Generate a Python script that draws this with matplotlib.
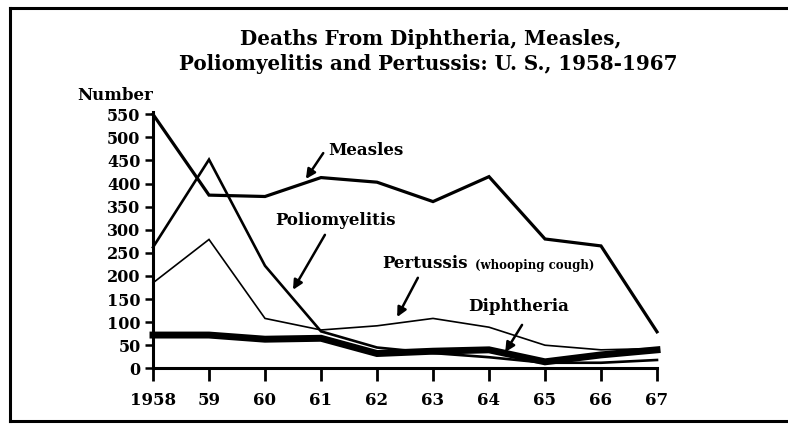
import matplotlib
matplotlib.use("Agg")
import matplotlib.pyplot as plt
from matplotlib.lines import Line2D

# Deaths per year, United States
years = [1958, 1959, 1960, 1961, 1962, 1963, 1964, 1965, 1966, 1967]
year_labels = ["1958", "59", "60", "61", "62", "63", "64", "65", "66", "67"]
measles = [550, 375, 372, 413, 403, 361, 415, 280, 265, 79]
poliomyelitis = [262, 452, 222, 80, 45, 33, 24, 12, 12, 18]
pertussis = [185, 279, 108, 83, 92, 108, 89, 50, 40, 43]
diphtheria = [72, 72, 63, 65, 32, 37, 40, 14, 29, 40]
y_ticks = list(range(0, 551, 50))

plt.rcParams["font.family"] = ["DejaVu Serif"]
plt.rcParams["font.weight"] = "bold"

W, H = 788, 424
fig = plt.figure(figsize=(W / 100, H / 100), dpi=100)
fig.patch.set_facecolor("white")

# Axes placed in pixel terms
x0, x1 = 153, 657
y0, y1 = 368.3, 114.3
ax = fig.add_axes([x0 / W, 1 - y0 / H, (x1 - x0) / W, (y0 - y1) / H])
ax.set_xlim(1958, 1967)
ax.set_ylim(0, 550)

ax.plot(years, measles, color="black", lw=2.3, solid_joinstyle="miter", clip_on=False)
ax.plot(years, poliomyelitis, color="black", lw=1.9, solid_joinstyle="miter", clip_on=False)
ax.plot(years, pertussis, color="black", lw=1.2, solid_joinstyle="miter", clip_on=False)
ax.plot(years, diphtheria, color="black", lw=5.0, solid_joinstyle="miter", clip_on=False)

for s in ["top", "right"]:
    ax.spines[s].set_visible(False)
for s in ["left", "bottom"]:
    ax.spines[s].set_linewidth(2.2)
ax.spines["left"].set_bounds(0, 556)

ax.set_yticks(y_ticks)
ax.set_yticklabels([str(v) for v in y_ticks], fontsize=11.5, fontweight="bold")
ax.set_xticks(years)
ax.set_xticklabels(year_labels, fontsize=12, fontweight="bold")
ax.tick_params(axis="y", direction="out", length=6, width=1.8, pad=3)
ax.tick_params(axis="x", direction="out", length=9, width=2.0, pad=8)

# Title and axis caption
fig.text(431 / W, 1 - 39 / H, "Deaths From Diphtheria, Measles,",
         ha="center", va="center", fontsize=14.3, fontweight="bold")
fig.text(428 / W, 1 - 64 / H, "Poliomyelitis and Pertussis: U. S., 1958-1967",
         ha="center", va="center", fontsize=14.3, fontweight="bold")
fig.text(77 / W, 1 - 95 / H, "Number", ha="left", va="center",
         fontsize=12, fontweight="bold")

arrow = dict(arrowstyle="-|>", lw=1.8, color="black", mutation_scale=14,
             shrinkA=0, shrinkB=0)

ax.annotate("", xy=(1960.73, 410), xytext=(1961.04, 466), arrowprops=arrow)
ax.text(1961.125, 471, "Measles", ha="left", va="center", fontsize=12, fontweight="bold")

ax.annotate("", xy=(1960.5, 170), xytext=(1961.07, 289), arrowprops=arrow)
ax.text(1960.18, 321, "Poliomyelitis", ha="left", va="center", fontsize=12, fontweight="bold")

ax.annotate("", xy=(1962.36, 111), xytext=(1962.73, 196), arrowprops=arrow)
ax.text(1962.09, 226, "Pertussis", ha="left", va="center", fontsize=12, fontweight="bold")
ax.text(1963.75, 222, "(whooping cough)", ha="left", va="center", fontsize=8.5, fontweight="bold")

ax.annotate("", xy=(1964.29, 35), xytext=(1964.59, 94), arrowprops=arrow)
ax.text(1963.625, 133, "Diphtheria", ha="left", va="center", fontsize=12, fontweight="bold")

# Border around the figure
frame_kw = dict(color="black", lw=2.2, transform=fig.transFigure)
fig.add_artist(Line2D([9.5 / W, 9.5 / W], [1 - 7.5 / H, 1 - 421 / H], **frame_kw))
fig.add_artist(Line2D([9.5 / W, 1.0], [1 - 7.5 / H, 1 - 7.5 / H], **frame_kw))
fig.add_artist(Line2D([9.5 / W, 1.0], [1 - 421 / H, 1 - 421 / H], **frame_kw))

fig.savefig("out.png", dpi=100, facecolor="white")
